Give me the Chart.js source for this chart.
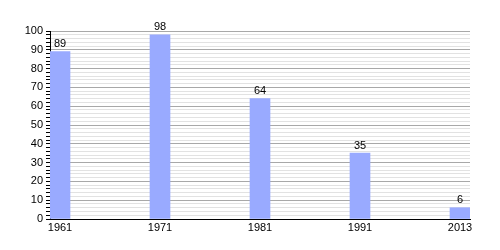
<!DOCTYPE html>
<html>
<head>
<meta charset="utf-8">
<script src="https://cdn.jsdelivr.net/npm/chart.js@4/dist/chart.umd.min.js"></script>
<style>
html,body{margin:0;padding:0;background:#fff;}
#wrap{width:500px;height:250px;}
</style>
</head>
<body>
<div id="wrap"><canvas id="c" width="500" height="250"></canvas></div>
<script>
const categories = ["1961", "1971", "1981", "1991", "2013"];
const values = [89, 98, 64, 35, 6];
const yTicks = [0, 10, 20, 30, 40, 50, 60, 70, 80, 90, 100];

const valueLabels = {
  id: 'valueLabels',
  afterDatasetsDraw(chart) {
    const ctx = chart.ctx;
    ctx.save();
    ctx.font = '11px "Liberation Sans", Arial, sans-serif';
    ctx.fillStyle = '#000';
    ctx.textAlign = 'center';
    ctx.textBaseline = 'bottom';
    chart.getDatasetMeta(0).data.forEach((bar, i) => {
      ctx.fillText(String(values[i]), bar.x, bar.y - 2);
    });
    ctx.restore();
  }
};

new Chart(document.getElementById('c'), {
  type: 'bar',
  data: {
    datasets: [{
      data: values.map((v, i) => ({x: i, y: v})),
      backgroundColor: '#99aaff',
      borderWidth: 0,
      barThickness: 20
    }]
  },
  options: {
    responsive: false,
    animation: false,
    devicePixelRatio: 1,
    layout: {padding: {left: 0, right: 30, top: 31, bottom: 0}},
    plugins: {legend: {display: false}, tooltip: {enabled: false}},
    scales: {
      x: {
        type: 'linear',
        offset: false,
        min: -0.1,
        max: 4.1,
        afterBuildTicks(scale) {
          scale.ticks = categories.map((c, i) => ({value: i}));
        },
        afterFit(scale) { scale.height = 31; },
        ticks: {
          autoSkip: false,
          maxRotation: 0,
          padding: 2,
          color: '#000',
          font: {family: '"Liberation Sans", Arial, sans-serif', size: 11},
          callback: (v) => categories[v]
        },
        grid: {display: false, drawTicks: false, offset: false},
        border: {display: true, color: '#000', width: 1}
      },
      y: {
        min: 0,
        max: 100,
        afterBuildTicks(scale) {
          const t = [];
          for (let v = 0; v <= 100; v += 2) t.push({value: v});
          scale.ticks = t;
        },
        afterFit(scale) { scale.width = 50; },
        ticks: {
          autoSkip: false,
          padding: 3,
          color: '#000',
          font: {family: '"Liberation Sans", Arial, sans-serif', size: 11},
          callback: (v) => yTicks.includes(v) ? String(v) : ''
        },
        grid: {
          drawTicks: true,
          tickLength: 4,
          tickColor: '#000',
          color: (ctx) => (ctx.tick && ctx.tick.value % 10 === 0) ? '#a8a8a8' : '#e2e2e2',
          lineWidth: 1
        },
        border: {display: true, color: '#000', width: 1}
      }
    }
  },
  plugins: [valueLabels]
});
</script>
</body>
</html>
